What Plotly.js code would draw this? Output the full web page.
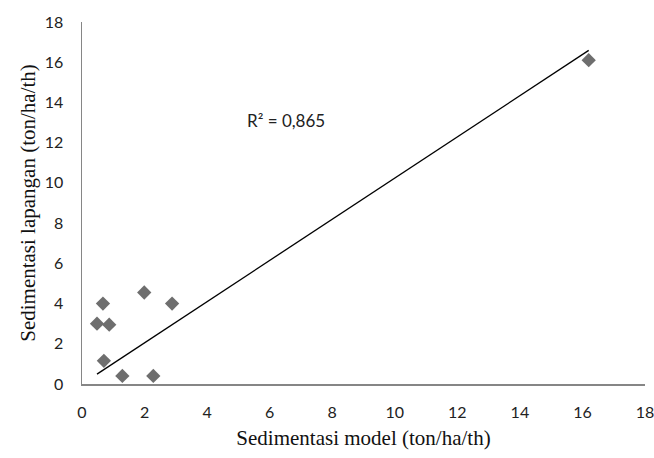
<!DOCTYPE html>
<html>
<head>
<meta charset="utf-8">
<script src="https://cdn.plot.ly/plotly-3.0.1.min.js"></script>
<style>html,body{margin:0;padding:0;background:#fff;}#chart{width:654px;height:458px;}</style>
</head>
<body>
<div id="chart"></div>
<script>
// Data
const modelX = [0.48, 0.67, 0.87, 0.70, 1.29, 1.99, 2.28, 2.88, 16.2];
const fieldY = [3.0, 4.0, 2.95, 1.15, 0.4, 4.55, 0.4, 4.0, 16.1];
const xTicks = [0, 2, 4, 6, 8, 10, 12, 14, 16, 18];
const yTicks = [0, 2, 4, 6, 8, 10, 12, 14, 16, 18];
const r2Label = "R² = 0,865";

// Linear trendline forced through origin (least squares)
let sxy = 0, sxx = 0;
for (let i = 0; i < modelX.length; i++) { sxy += modelX[i] * fieldY[i]; sxx += modelX[i] * modelX[i]; }
const slope = sxy / sxx;
const xMin = Math.min(...modelX), xMax = Math.max(...modelX);
const trendX = [xMin, xMax];
const trendY = trendX.map(v => slope * v);

const tickFont = {family: "Lato, 'Open Sans', sans-serif", size: 16, color: "#222"};
const titleFont = {family: "'Liberation Serif', 'Times New Roman', serif", size: 21, color: "#111"};

const data = [
  {x: trendX, y: trendY, mode: "lines", type: "scatter", line: {color: "#000", width: 1.3}, hoverinfo: "skip", showlegend: false},
  {x: modelX, y: fieldY, mode: "markers", type: "scatter", marker: {symbol: "diamond", size: 11, color: "#6e6e6e"}, showlegend: false}
];

const layout = {
  width: 654, height: 458,
  margin: {l: 82, r: 9, t: 22, b: 74},
  paper_bgcolor: "#fff", plot_bgcolor: "#fff",
  showlegend: false,
  xaxis: {
    range: [0, 18], tickvals: xTicks, ticktext: xTicks.map(String),
    showgrid: false, zeroline: false, showline: true, linecolor: "#868686", linewidth: 1.5,
    ticks: "", tickfont: tickFont, ticklabelstandoff: 13, ticklabeloverflow: "allow",
    title: {text: "Sedimentasi model (ton/ha/th)", font: titleFont, standoff: 10}
  },
  yaxis: {
    range: [0, 18], tickvals: yTicks, ticktext: yTicks.map(String),
    showgrid: false, zeroline: false, showline: true, linecolor: "#868686", linewidth: 1.5,
    ticks: "", tickfont: tickFont, ticklabelstandoff: 14, ticklabeloverflow: "allow",
    title: {text: "Sedimentasi lapangan (ton/ha/th)", font: titleFont, standoff: 3}
  },
  annotations: [{
    x: 6.52, y: 13.1, xref: "x", yref: "y", text: r2Label, showarrow: false,
    font: {family: "Lato, 'Open Sans', sans-serif", size: 17, color: "#222"}
  }]
};

Plotly.newPlot("chart", data, layout, {displayModeBar: false, staticPlot: true});
</script>
</body>
</html>
